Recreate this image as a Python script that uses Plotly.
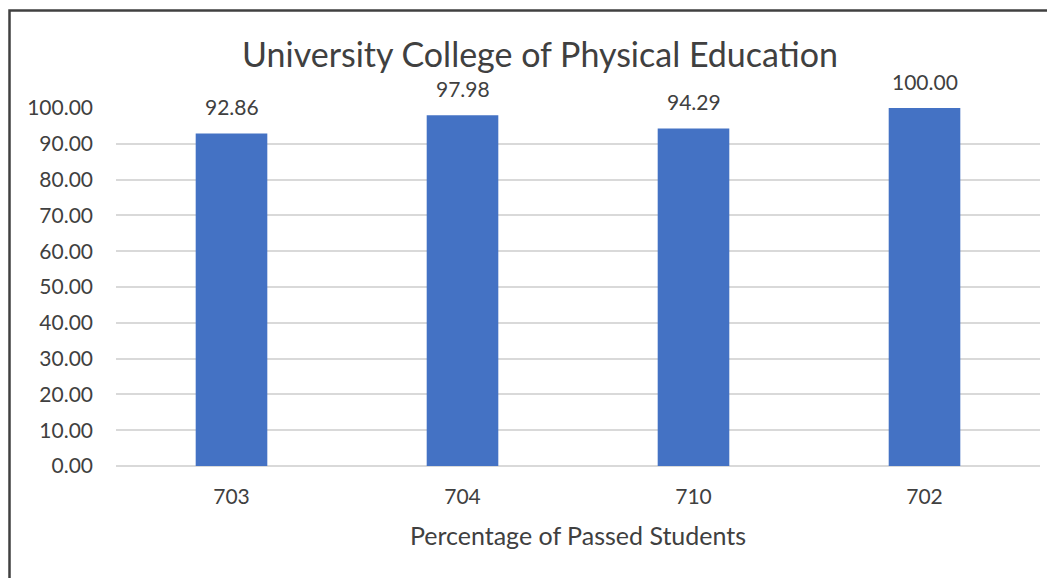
import plotly.graph_objects as go

colleges = ["703", "704", "710", "702"]
passed_pct = [92.86, 97.98, 94.29, 100.00]
y_ticks = [0, 10, 20, 30, 40, 50, 60, 70, 80, 90, 100]

FONT = "Lato"
GREY = "#404040"

# the page body adds an 8px margin, so the figure is drawn 8px smaller
W, H = 1047, 570
L, R, T, B = 108, 15, 100, 112
PW, PH = W - L - R, H - T - B

fig = go.Figure()
fig.add_trace(go.Bar(
    x=colleges, y=passed_pct,
    marker=dict(color="#4472C4", line=dict(width=0)),
    width=0.31,
))

# value labels above the bars (category axes take the serial number)
for i, v in enumerate(passed_pct):
    fig.add_annotation(x=i, y=v, text=f"{v:.2f}", showarrow=False,
                       yshift=27, font=dict(family=FONT, size=21, color=GREY))

# outer chart frame (cut by the image edge on the right and bottom)
fig.add_shape(type="rect", xref="paper", yref="paper",
              x0=(1.5 - L) / PW, x1=(W + 20 - L) / PW,
              y0=-(B + 20) / PH, y1=(PH + T - 2.5) / PH,
              line=dict(color="#404040", width=2.5), layer="below")

fig.update_layout(
    width=W, height=H,
    margin=dict(l=L, r=R, t=T, b=B),
    plot_bgcolor="white", paper_bgcolor="white",
    showlegend=False,
    font=dict(family=FONT, color=GREY, size=21),
    title=dict(text="University College of Physical Education",
               x=532 / W, xanchor="center", y=1 - 47 / H, yanchor="middle",
               font=dict(family=FONT, size=34, color=GREY)),
    xaxis=dict(type="category", range=[-0.5, len(colleges) - 0.5],
               showgrid=False, showline=False, zeroline=False,
               automargin=False, ticks="", ticklabelstandoff=16,
               title=dict(text="Percentage of Passed Students", standoff=20,
                          font=dict(size=25, color=GREY)),
               tickfont=dict(size=21, color=GREY)),
    yaxis=dict(range=[0, 100], tickvals=y_ticks,
               ticktext=[f"{t:.2f}" for t in y_ticks],
               automargin=False,
               showgrid=True, gridcolor="#D9D9D9", gridwidth=1.5,
               zeroline=True, zerolinecolor="#D9D9D9", zerolinewidth=1.5,
               showline=False, ticks="", ticklabelstandoff=22,
               tickfont=dict(size=21, color=GREY)),
)

fig.write_html("out.html")
